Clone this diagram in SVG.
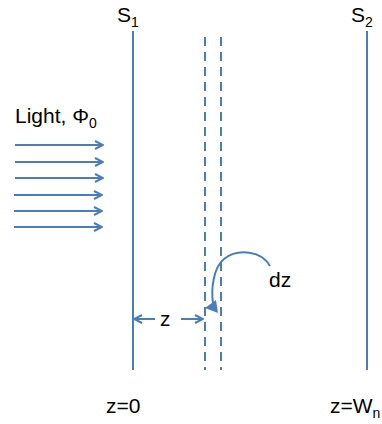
<svg xmlns="http://www.w3.org/2000/svg" width="382" height="424" viewBox="0 0 382 424">
<style>
.ln{stroke:#4a7ebb;stroke-width:2;fill:none}
.ds{stroke:#4a7ebb;stroke-width:2;fill:none;stroke-dasharray:9,6}
.t{font-family:"Liberation Sans","DejaVu Sans",sans-serif;font-size:21px;fill:#000}
.s{font-size:14px}
</style>
<defs>
<marker id="ah" viewBox="0 0 10 10" refX="9" refY="5" markerWidth="10" markerHeight="10" markerUnits="userSpaceOnUse" orient="auto">
<path d="M1,1 L9,5 L1,9" fill="none" stroke="#4a7ebb" stroke-width="2"/>
</marker>
</defs>
<rect width="382" height="424" fill="#fff"/>
<g id="s1">
<line class="ln" x1="133" y1="31" x2="133" y2="370"/>
<text class="t" x="117" y="22">S<tspan class="s" dy="5">1</tspan></text>
</g>
<g id="s2">
<line class="ln" x1="367" y1="31" x2="367" y2="370"/>
<text class="t" x="351" y="22">S<tspan class="s" dy="5">2</tspan></text>
</g>
<g id="slab">
<line class="ds" x1="205" y1="37" x2="205" y2="370"/>
<line class="ds" x1="221" y1="37" x2="221" y2="370"/>
</g>
<g id="light">
<text class="t" x="15" y="123">Light, Φ<tspan class="s" dy="5">0</tspan></text>
</g>
<g id="connectors">
<line class="ln" x1="15" y1="145" x2="103" y2="145" marker-end="url(#ah)"/>
<line class="ln" x1="15" y1="162" x2="103" y2="162" marker-end="url(#ah)"/>
<line class="ln" x1="15" y1="178" x2="103" y2="178" marker-end="url(#ah)"/>
<line class="ln" x1="14" y1="195" x2="102" y2="195" marker-end="url(#ah)"/>
<line class="ln" x1="14" y1="211" x2="102" y2="211" marker-end="url(#ah)"/>
<line class="ln" x1="14" y1="227" x2="102" y2="227" marker-end="url(#ah)"/>
<line class="ln" x1="155" y1="319" x2="134" y2="319" marker-end="url(#ah)"/>
<line class="ln" x1="181" y1="319" x2="203" y2="319" marker-end="url(#ah)"/>
<path class="ln" d="M270,266 C262,251 238,248 224,259 C213,268 211,290 213,303" stroke-width="3"/>
<polygon points="205,308 216,300 218,313" fill="#4a7ebb"/>
</g>
<g id="labels">
<text class="t" x="160" y="326">z</text>
<text class="t" x="269" y="287">dz</text>
<text class="t" x="106" y="413">z=0</text>
<text class="t" x="330" y="413">z=W<tspan class="s" dy="5">n</tspan></text>
</g>
</svg>
